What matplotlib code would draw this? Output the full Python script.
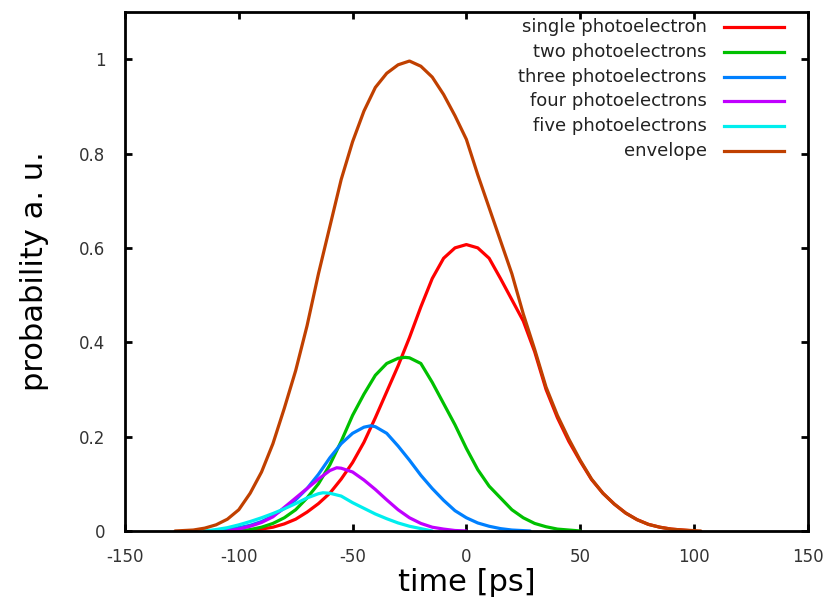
import numpy as np
import matplotlib
matplotlib.use("Agg")
import matplotlib.pyplot as plt

plt.rcParams['font.family'] = ['DejaVu Sans']

# -------------------------------------------------------------
# Data (time in ps, probability a.u.)
# -------------------------------------------------------------
t_env = [-128, -120, -115, -110, -105, -100, -95, -90, -85, -80, -75, -70, -65, -60,
         -55, -50, -45, -40, -35, -30, -25, -20, -15, -10, -5, 0, 5, 10, 15, 20,
         25, 30, 35, 40, 45, 50, 55, 60, 65, 70, 75, 80, 85, 90, 95, 103]
p_env = [0.0, 0.002, 0.006, 0.013, 0.025, 0.045, 0.08, 0.125, 0.185, 0.26, 0.34, 0.435, 0.545, 0.645,
         0.745, 0.825, 0.89, 0.94, 0.97, 0.988, 0.996, 0.985, 0.962, 0.925, 0.88, 0.83, 0.755, 0.685, 0.615, 0.545,
         0.46, 0.385, 0.305, 0.245, 0.195, 0.15, 0.11, 0.08, 0.057, 0.038, 0.024, 0.014, 0.008, 0.004, 0.002, 0.0]

t_one = [-100, -95, -90, -85, -80, -75, -70, -65, -60, -55, -50, -45, -40, -35, -30, -25,
         -20, -15, -10, -5, 0, 5, 10, 15, 20, 25, 30, 35, 40, 45, 50, 55, 60, 65,
         70, 75, 80, 85, 90, 95, 100]
p_one = [0.0, 0.001, 0.004, 0.008, 0.015, 0.025, 0.04, 0.058, 0.08, 0.11, 0.145, 0.188, 0.24, 0.295, 0.35, 0.41,
         0.475, 0.535, 0.578, 0.6, 0.607, 0.6, 0.578, 0.535, 0.49, 0.445, 0.38, 0.3, 0.24, 0.19, 0.148, 0.109, 0.08, 0.057,
         0.038, 0.024, 0.014, 0.008, 0.004, 0.002, 0.0]

t_two = [-100, -95, -90, -85, -80, -75, -70, -65, -60, -55, -50, -45, -40, -35, -30, -27,
         -25, -20, -15, -10, -5, 0, 5, 10, 15, 20, 25, 30, 35, 40, 45, 50]
p_two = [0.0, 0.003, 0.008, 0.016, 0.028, 0.045, 0.07, 0.1, 0.14, 0.19, 0.245, 0.29, 0.33, 0.355, 0.366, 0.368,
         0.367, 0.355, 0.315, 0.27, 0.225, 0.175, 0.13, 0.095, 0.07, 0.045, 0.028, 0.016, 0.009, 0.004, 0.002, 0.0]

t_three = [-110, -105, -100, -95, -90, -85, -80, -75, -70, -65, -60, -55, -50, -45, -42, -40,
           -35, -30, -25, -20, -15, -10, -5, 0, 5, 10, 15, 20, 28]
p_three = [0.0, 0.003, 0.007, 0.012, 0.02, 0.032, 0.048, 0.066, 0.09, 0.12, 0.155, 0.185, 0.207, 0.22, 0.223, 0.221,
           0.207, 0.18, 0.15, 0.118, 0.09, 0.065, 0.043, 0.028, 0.017, 0.01, 0.005, 0.002, 0.0]

t_four = [-105, -100, -95, -90, -85, -80, -75, -70, -65, -60, -57, -55, -50, -45, -40, -35,
          -30, -25, -20, -15, -10, -5, 0]
p_four = [0.0, 0.004, 0.01, 0.018, 0.03, 0.05, 0.07, 0.09, 0.11, 0.128, 0.134, 0.133, 0.125, 0.108, 0.088, 0.066,
          0.045, 0.028, 0.016, 0.008, 0.004, 0.001, 0.0]

t_five = [-115, -110, -105, -100, -95, -90, -85, -80, -75, -70, -65, -63, -60, -55, -50, -45,
          -40, -35, -30, -25, -20, -15]
p_five = [0.0, 0.003, 0.007, 0.013, 0.02, 0.028, 0.037, 0.047, 0.058, 0.07, 0.079, 0.081, 0.08, 0.074, 0.06, 0.048,
          0.036, 0.026, 0.017, 0.01, 0.005, 0.0]

labels = ['single photoelectron', 'two photoelectrons', 'three photoelectrons',
          'four photoelectrons', 'five photoelectrons', 'envelope']
colors = ['#ff0000', '#00c000', '#0080ff', '#c000ff', '#00eeee', '#c04000']
series = [(t_one, p_one), (t_two, p_two), (t_three, p_three),
          (t_four, p_four), (t_five, p_five), (t_env, p_env)]

x_ticks = [-150, -100, -50, 0, 50, 100, 150]
y_ticks = [0, 0.2, 0.4, 0.6, 0.8, 1]
y_ticklabels = ['0', '0.2', '0.4', '0.6', '0.8', '1']

# -------------------------------------------------------------
# Plot
# -------------------------------------------------------------
fig = plt.figure(figsize=(8.25, 6.04), dpi=100)
ax = fig.add_axes([0.1515, 0.1209, 0.8276, 0.8593])

for (t, p), c in zip(series, colors):
    ax.plot(t, p, color=c, linewidth=2.3, solid_capstyle='round')

ax.set_xlim(-150, 150)
ax.set_ylim(0, 1.1)
ax.set_xticks(x_ticks)
ax.set_xticklabels([str(v) for v in x_ticks])
ax.set_yticks(y_ticks)
ax.set_yticklabels(y_ticklabels)

for s in ax.spines.values():
    s.set_linewidth(2.0)
    s.set_color('black')
ax.tick_params(direction='in', length=5, width=2, top=True, right=True,
               labelsize=12, labelcolor='#333333')
ax.tick_params(axis='x', pad=12)
ax.tick_params(axis='y', pad=14)

ax.set_xlabel('time [ps]', fontsize=22, labelpad=2)
ax.set_ylabel('probability a. u.', fontsize=22, labelpad=22)

# gnuplot style key: text right-aligned, sample line to the right
y0, dy = 0.971, 0.0478
for i, (lab, c) in enumerate(zip(labels, colors)):
    yy = y0 - i * dy
    ax.text(0.852, yy, lab, transform=ax.transAxes, ha='right', va='center',
            fontsize=13, color='#222222')
    ax.plot([0.878, 0.965], [yy, yy], transform=ax.transAxes, color=c,
            linewidth=2.3)

fig.savefig('out.png', dpi=100)
